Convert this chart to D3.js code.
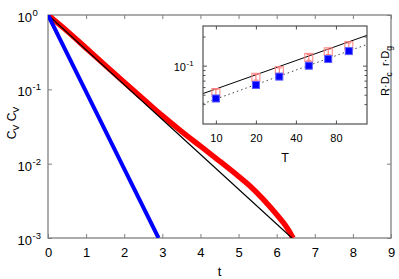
<!DOCTYPE html>
<html><head><meta charset="utf-8">
<script src="https://cdn.jsdelivr.net/npm/d3@7"></script>
<style>body{margin:0;background:#fff} svg{display:block} text{font-family:"Liberation Sans",Arial,Helvetica,sans-serif;fill:#000}</style>
</head><body><svg id="c" width="399" height="279"></svg>
<script>
// ---- main panel data ----
const blueT = [0, 1, 2, 2.9];
const blueC = [1, 0.0923, 0.0085, 0.001];
const blackT = [0, 3.2, 6.4];
const blackC = [1, 0.0316, 0.001];
const redT = [0, 0.5, 1, 1.5, 2, 2.5, 3, 3.5, 4, 4.5, 5, 5.3, 5.65, 6.0, 6.25, 6.43];
const redC = [1, 0.6095, 0.3589, 0.2113, 0.1245, 0.0741, 0.0442, 0.0272, 0.0172, 0.01084, 0.00676, 0.00501, 0.00331, 0.00207, 0.00143, 0.001];
const xTicks = [0, 1, 2, 3, 4, 5, 6, 7, 8, 9];
const yTicks = [1, 0.1, 0.01, 0.001];
const yTickExp = ["0", "-1", "-2", "-3"];
// ---- inset data ----
const insetT = [10, 20, 30, 50, 70, 100];
const insetR = [0.0527, 0.0758, 0.0887, 0.1218, 0.139, 0.1608];
const insetRErr = [0.004, 0.005, 0.006, 0.008, 0.009, 0.011];
const insetB = [0.0457, 0.0631, 0.0770, 0.0998, 0.117, 0.1413];
const fitSolidT = [8, 137], fitSolidV = [0.0514, 0.2057];
const fitDotT = [8, 137], fitDotV = [0.0404, 0.1657];
const insetXTicks = [10, 20, 40, 80];
const insetYMajor = [0.1];
const insetYMinor = [0.04, 0.05, 0.06, 0.07, 0.08, 0.09, 0.2];

const svg = d3.select("#c");
const L = 48, R = 391, T = 15, B = 238;
const x = d3.scaleLinear([0, 9], [L, R]);
const y = d3.scaleLog([1e-3, 1], [B, T]);
const axisCol = "#808080";

const defs = svg.append("defs");
defs.append("clipPath").attr("id", "clipMain")
  .append("rect").attr("x", L).attr("y", T).attr("width", R - L).attr("height", B - T);

function styleAxis(g, col) {
  g.select(".domain").remove();
  g.selectAll(".tick line").attr("stroke", col).attr("stroke-width", 1);
  g.selectAll("text").attr("font-family", "Liberation Sans, Arial, sans-serif").attr("fill", "#000");
}

// main axes ticks
svg.append("g").attr("transform", `translate(0,${B})`)
  .call(d3.axisBottom(x).tickValues(xTicks).tickSize(-4).tickPadding(10).tickFormat(d3.format("d")))
  .call(g => { styleAxis(g, axisCol); g.selectAll("text").attr("font-size", 13); });
svg.append("g").attr("transform", `translate(0,${T})`)
  .call(d3.axisTop(x).tickValues(xTicks).tickSize(-4).tickFormat(""))
  .call(g => styleAxis(g, axisCol));
svg.append("g").attr("transform", `translate(${L},0)`)
  .call(d3.axisLeft(y).tickValues(yTicks).tickSize(-4).tickFormat(""))
  .call(g => styleAxis(g, axisCol));
svg.append("g").attr("transform", `translate(${R},0)`)
  .call(d3.axisRight(y).tickValues(yTicks).tickSize(-4).tickFormat(""))
  .call(g => styleAxis(g, axisCol));

// y tick labels with superscripts
const yl = svg.append("g");
yTicks.forEach((v, i) => {
  yl.append("text").attr("x", 32).attr("y", y(v) + 7).attr("text-anchor", "end")
    .attr("font-size", 13).text("10");
  yl.append("text").attr("x", 32.5).attr("y", y(v) + 1).attr("text-anchor", "start")
    .attr("font-size", 9.5).text(yTickExp[i]);
});

// frame
svg.append("rect").attr("x", L).attr("y", T).attr("width", R - L).attr("height", B - T)
  .attr("fill", "none").attr("stroke", axisCol).attr("stroke-width", 1.3);

// curves
const line = d3.line().x(d => x(d[0])).y(d => y(d[1]));
const lineSmooth = d3.line().x(d => x(d[0])).y(d => y(d[1])).curve(d3.curveCatmullRom);
const cg = svg.append("g").attr("clip-path", "url(#clipMain)");
cg.append("path").attr("d", lineSmooth(d3.zip(redT, redC)))
  .attr("fill", "none").attr("stroke", "#ff0000").attr("stroke-width", 5.5);
cg.append("path").attr("d", line(d3.zip(blackT, blackC)))
  .attr("fill", "none").attr("stroke", "#000").attr("stroke-width", 1.2);
cg.append("path").attr("d", line(d3.zip(blueT, blueC)))
  .attr("fill", "none").attr("stroke", "#0000ff").attr("stroke-width", 4);

// axis titles
svg.append("text").attr("x", (L + R) / 2).attr("y", 276).attr("text-anchor", "middle")
  .attr("font-size", 13).text("t");
const ylab = svg.append("text").attr("transform", `translate(16,123) rotate(-90)`)
  .attr("text-anchor", "middle").attr("font-size", 12);
ylab.append("tspan").text("C");
ylab.append("tspan").attr("font-size", 9).attr("dy", 3).text("V");
ylab.append("tspan").attr("dy", -3).text(" C");
ylab.append("tspan").attr("font-size", 9).attr("dy", 3).text("V");

// ---- inset ----
const iL = 203, iR = 367, iT = 26, iB = 124;
const ix = d3.scaleLog([8, 137], [iL, iR]);
const iy = d3.scaleLog([0.0249, 0.257], [iB, iT]);
const inCol = "#505050";
const ig = svg.append("g");
ig.append("rect").attr("x", iL).attr("y", iT).attr("width", iR - iL).attr("height", iB - iT)
  .attr("fill", "#fff");
ig.append("g").attr("transform", `translate(0,${iB})`)
  .call(d3.axisBottom(ix).tickValues(insetXTicks).tickSize(-3.5).tickPadding(10).tickFormat(d3.format("d")))
  .call(g => { styleAxis(g, inCol); g.selectAll("text").attr("font-size", 11); });
ig.append("g").attr("transform", `translate(0,${iT})`)
  .call(d3.axisTop(ix).tickValues(insetXTicks).tickSize(-3.5).tickFormat(""))
  .call(g => styleAxis(g, inCol));
[[d3.axisLeft, iL], [d3.axisRight, iR]].forEach(([ax, px]) => {
  ig.append("g").attr("transform", `translate(${px},0)`)
    .call(ax(iy).tickValues(insetYMajor).tickSize(-4).tickFormat(""))
    .call(g => styleAxis(g, inCol));
  ig.append("g").attr("transform", `translate(${px},0)`)
    .call(ax(iy).tickValues(insetYMinor).tickSize(-2.5).tickFormat(""))
    .call(g => styleAxis(g, inCol));
});
insetYMajor.forEach(v => {
  ig.append("text").attr("x", 186).attr("y", iy(v) + 5.5).attr("text-anchor", "end")
    .attr("font-size", 11).text("10");
  ig.append("text").attr("x", 186.5).attr("y", iy(v) + 0.5).attr("font-size", 8).text("-1");
});

defs.append("clipPath").attr("id", "clipIn")
  .append("rect").attr("x", iL).attr("y", iT).attr("width", iR - iL).attr("height", iB - iT);
const ic = ig.append("g").attr("clip-path", "url(#clipIn)");
const iline = d3.line().x(d => ix(d[0])).y(d => iy(d[1]));
ic.append("path").attr("d", iline(d3.zip(fitSolidT, fitSolidV)))
  .attr("fill", "none").attr("stroke", "#000").attr("stroke-width", 1);
ic.append("path").attr("d", iline(d3.zip(fitDotT, fitDotV)))
  .attr("fill", "none").attr("stroke", "#444").attr("stroke-width", 1).attr("stroke-dasharray", "1.5,3");

// red open squares with error bars
const sq = 8, sqb = 7;
insetT.forEach((t, i) => {
  const cx = ix(t), cy = iy(insetR[i]);
  const y0 = iy(insetR[i] - insetRErr[i]), y1 = iy(insetR[i] + insetRErr[i]);
  ic.append("line").attr("x1", cx).attr("x2", cx).attr("y1", y0).attr("y2", y1)
    .attr("stroke", "#ff7070").attr("stroke-width", 1);
  [y0, y1].forEach(yy => ic.append("line").attr("x1", cx - 2.5).attr("x2", cx + 2.5)
    .attr("y1", yy).attr("y2", yy).attr("stroke", "#ff7070").attr("stroke-width", 1));
  ic.append("rect").attr("x", cx - sq / 2).attr("y", cy - sq / 2).attr("width", sq).attr("height", sq)
    .attr("fill", "none").attr("stroke", "#ff8080").attr("stroke-width", 1);
});
insetT.forEach((t, i) => {
  const cx = ix(t), cy = iy(insetB[i]);
  ic.append("rect").attr("x", cx - sqb / 2).attr("y", cy - sqb / 2).attr("width", sqb).attr("height", sqb)
    .attr("fill", "#0000ff").attr("stroke", "#5a5aff").attr("stroke-width", 1);
});

ig.append("rect").attr("x", iL).attr("y", iT).attr("width", iR - iL).attr("height", iB - iT)
  .attr("fill", "none").attr("stroke", inCol).attr("stroke-width", 1.2);

// inset titles
ig.append("text").attr("x", (iL + iR) / 2).attr("y", 162).attr("text-anchor", "middle")
  .attr("font-size", 12.5).text("T");
const iyl = ig.append("text").attr("transform", `translate(389,71) rotate(-90)`)
  .attr("text-anchor", "middle").attr("font-size", 11);
iyl.append("tspan").text("R\u00b7D");
iyl.append("tspan").attr("font-size", 8.5).attr("dy", 2.5).text("c");
iyl.append("tspan").attr("dy", -2.5).text("\u00a0\u00a0r\u00b7D");
iyl.append("tspan").attr("font-size", 8.5).attr("dy", 2.5).text("g");
</script></body></html>
